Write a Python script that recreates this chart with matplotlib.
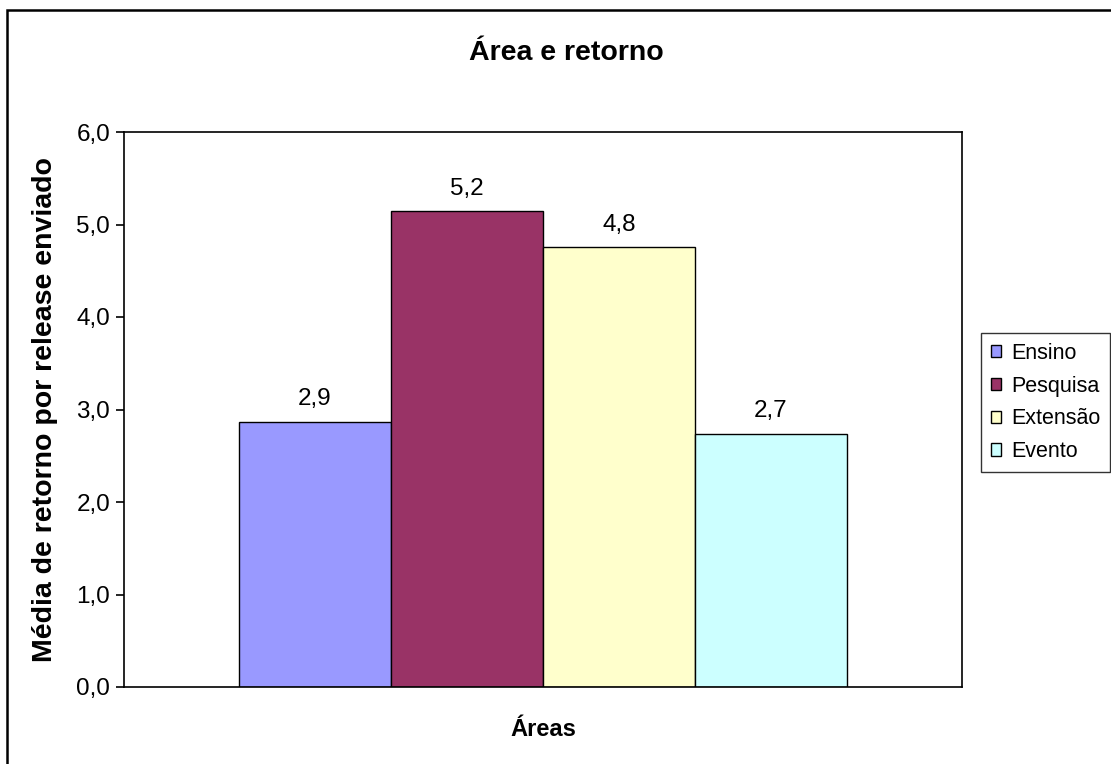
import matplotlib
matplotlib.use("Agg")
import matplotlib.pyplot as plt
from matplotlib.patches import Rectangle

plt.rcParams['font.family'] = ['Liberation Sans', 'DejaVu Sans']

# data
series = ['Ensino', 'Pesquisa', 'Extensão', 'Evento']
values = [2.87, 5.15, 4.76, 2.74]
colors = ['#9999ff', '#993366', '#ffffcc', '#ccffff']
yticks = [0, 1, 2, 3, 4, 5, 6]

W, H = 1111, 764
fs = 17.5      # regular text

fig = plt.figure(figsize=(W / 100, H / 100), dpi=100)
ax = fig.add_axes([124 / W, (H - 687) / H, (962 - 124) / W, (687 - 132) / H])

offsets = [-1.5, -0.5, 0.5, 1.5]
for name, val, col, off in zip(series, values, colors, offsets):
    bars = ax.bar(off, val, width=1.0, color=col, edgecolor='black',
                  linewidth=1.0, label=name)
    ax.bar_label(bars, labels=[f"{val:.1f}".replace('.', ',')],
                 padding=8, fontsize=fs)

ax.set_xlim(-2.757, 2.757)
ax.set_ylim(0, 6)
ax.set_yticks(yticks)
ax.set_yticklabels([f"{t:.1f}".replace('.', ',') for t in yticks], fontsize=fs)
ax.set_xticks([])
ax.tick_params(axis='y', length=6, width=1.2, pad=4)
for s in ax.spines.values():
    s.set_linewidth(1.2)

fig.text(45 / W, 1 - 409 / H, 'Média de retorno por release enviado',
         rotation=90, ha='center', va='center', fontsize=20.5,
         fontweight='bold')
fig.text(543 / W, 1 - 730 / H, 'Áreas', ha='center', va='center',
         fontsize=17, fontweight='bold')
fig.text(566 / W, 1 - 53 / H, 'Área e retorno', ha='center', va='center',
         fontsize=20.5, fontweight='bold')

# chart border, right and bottom edges fall outside the picture
fig.patches.append(Rectangle((6.5 / W, -0.1), 1.2, (H - 9.5) / H + 0.1,
                             transform=fig.transFigure, fill=False,
                             edgecolor='black', linewidth=1.8))

leg = fig.legend(loc='upper left', bbox_to_anchor=(981 / W, 1 - 333 / H),
                 fontsize=15.5, frameon=True, fancybox=False, handlelength=0.5,
                 handleheight=0.5, handletextpad=0.45, labelspacing=0.55,
                 borderpad=0.45, borderaxespad=0)
leg.get_frame().set_edgecolor('black')
leg.get_frame().set_linewidth(1.0)

fig.savefig('out.png', dpi=100)
